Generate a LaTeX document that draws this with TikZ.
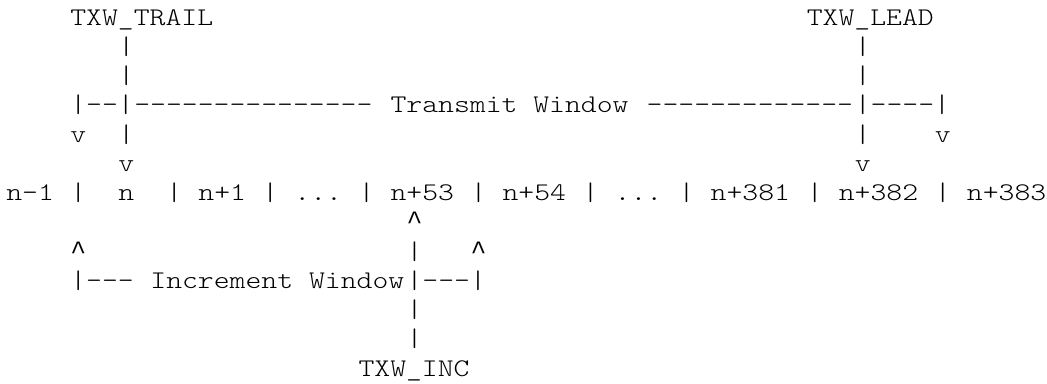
\documentclass[tikz,border=0pt]{standalone}
\usepackage{fontspec}
\newfontfamily\asciifont{lmmonolt10-regular.otf}[Ligatures=TeXOff,WordSpace={1,0,0},FakeStretch=1.19]
\newfontfamily\caretfont{Liberation Mono}
\newcommand{\caret}{{\caretfont\fontsize{26.5}{29.25}\selectfont\textasciicircum}}
\tikzset{
  txt/.style={anchor=base west, inner sep=0pt, outer sep=0pt,
    font=\asciifont\fontsize{25.4}{29.25}\selectfont},
}
\begin{document}
\begin{tikzpicture}[x=16.01pt, y=-29.25pt]
  \useasboundingbox (-6.3pt,25pt) rectangle (1040.7pt,-358pt);

  %------ transmit window (top)
  \node[txt] (trail) at (4,0) {TXW\_TRAIL};
  \node[txt] (lead)  at (50,0) {TXW\_LEAD};

  \node[txt] (trailA) at (7,1) {|};
  \node[txt] (trailB) at (7,2) {|};
  \node[txt] (leadA)  at (53,1) {|};
  \node[txt] (leadB)  at (53,2) {|};

  \node[txt] (txl)    at (4,3)  {|--|};
  \node[txt] (txdl)   at (8,3)  {---------------};
  \node[txt] (txwin)  at (24,3) {Transmit Window};
  \node[txt] (txdr)   at (40,3) {-------------};
  \node[txt] (txr)    at (53,3) {|----|};

  \node[txt] (txlo)   at (4,4) {v};
  \node[txt] (trailC) at (7,4) {|};
  \node[txt] (leadC)  at (53,4) {|};
  \node[txt] (txhi)   at (58,4) {v};

  \node[txt] (trailV) at (7,5) {v};
  \node[txt] (leadV)  at (53,5) {v};

  %------ sequence numbers
  \node[txt] (s0)  at (0,6)  {n-1};
  \node[txt] (b0)  at (4,6)  {|};
  \node[txt] (s1)  at (7,6)  {n};
  \node[txt] (b1)  at (10,6) {|};
  \node[txt] (s2)  at (12,6) {n+1};
  \node[txt] (b2)  at (16,6) {|};
  \node[txt] (s3)  at (18,6) {...};
  \node[txt] (b3)  at (22,6) {|};
  \node[txt] (s4)  at (24,6) {n+53};
  \node[txt] (b4)  at (29,6) {|};
  \node[txt] (s5)  at (31,6) {n+54};
  \node[txt] (b5)  at (36,6) {|};
  \node[txt] (s6)  at (38,6) {...};
  \node[txt] (b6)  at (42,6) {|};
  \node[txt] (s7)  at (44,6) {n+381};
  \node[txt] (b7)  at (50,6) {|};
  \node[txt] (s8)  at (52,6) {n+382};
  \node[txt] (b8)  at (58,6) {|};
  \node[txt] (s9)  at (60,6) {n+383};

  %------ increment window (bottom)
  \node[txt] (incV) at (25,7) {\caret};

  \node[txt] (inclo) at (4,8) {\caret};
  \node[txt] (incA)  at (25,8) {|};
  \node[txt] (inchi) at (29,8) {\caret};

  \node[txt] (incl)   at (4,9)  {|---};
  \node[txt] (incwin) at (9,9)  {Increment Window};
  \node[txt] (incr)   at (25,9) {|---|};

  \node[txt] (incB) at (25,10) {|};
  \node[txt] (incC) at (25,11) {|};
  \node[txt] (inc)  at (22,12) {TXW\_INC};

\end{tikzpicture}
\end{document}
